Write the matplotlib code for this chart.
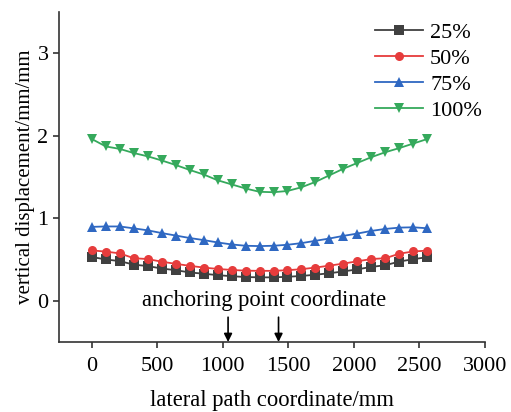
import numpy as np
import matplotlib
matplotlib.use("Agg")
import matplotlib.pyplot as plt

plt.rcParams['font.family'] = ['Liberation Serif', 'DejaVu Serif']

# lateral path coordinate (mm), 25 measuring points
x_mm = np.linspace(0, 2560, 25)

labels = ["25%", "50%", "75%", "100%"]
disp_25 = [0.53, 0.50, 0.48, 0.437, 0.42, 0.39, 0.37, 0.343, 0.327, 0.31, 0.297, 0.287,
           0.283, 0.283, 0.29, 0.30, 0.315, 0.333, 0.355, 0.38, 0.41, 0.43, 0.475, 0.503, 0.528]
disp_50 = [0.61, 0.595, 0.574, 0.515, 0.505, 0.473, 0.447, 0.423, 0.402, 0.385, 0.373, 0.364,
           0.362, 0.362, 0.37, 0.382, 0.402, 0.425, 0.45, 0.478, 0.505, 0.515, 0.57, 0.597, 0.607]
disp_75 = [0.895, 0.90, 0.90, 0.877, 0.853, 0.82, 0.79, 0.76, 0.735, 0.706, 0.682, 0.666,
           0.662, 0.666, 0.678, 0.698, 0.726, 0.754, 0.786, 0.814, 0.846, 0.87, 0.886, 0.89, 0.878]
disp_100 = [1.96, 1.87, 1.84, 1.79, 1.75, 1.70, 1.645, 1.585, 1.53, 1.46, 1.41, 1.36,
            1.32, 1.315, 1.33, 1.375, 1.44, 1.52, 1.60, 1.67, 1.74, 1.80, 1.85, 1.905, 1.96]

anchor_x = [1040, 1425]

colors = ['#404040', '#e63c3c', '#2f68c2', '#35a95c']
markers = ['s', 'o', '^', 'v']
series = [disp_25, disp_50, disp_75, disp_100]

fig = plt.figure(figsize=(5.11, 4.12), dpi=100)
ax = fig.add_axes([0.1155, 0.170, 0.8335, 0.801])

for y, c, m, lab in zip(series, colors, markers, labels):
    ax.plot(x_mm, y, color=c, marker=m, markersize=6.5, linewidth=1.3,
            markeredgewidth=0, label=lab)

ax.set_xlim(-250, 3000)
ax.set_ylim(-0.5, 3.5)
ax.set_xticks([0, 500, 1000, 1500, 2000, 2500, 3000])
ax.set_yticks([0, 1, 2, 3])
ax.spines['top'].set_visible(False)
ax.spines['right'].set_visible(False)
for s in ('left', 'bottom'):
    ax.spines[s].set_linewidth(1.2)
    ax.spines[s].set_color('#333333')
ax.tick_params(direction='out', length=4, width=1.2, labelsize=16, color='#333333')
ax.tick_params(axis='x', pad=7)

ax.set_xlabel("lateral path coordinate/mm", fontsize=16.3, labelpad=10)
ax.set_ylabel("vertical displacement/mm/mm", fontsize=15, labelpad=2)

ax.text(1315, 0.0, "anchoring point coordinate",
        fontsize=16.3, ha='center', va='center')
for xa in anchor_x:
    ax.annotate("", xy=(xa, -0.5), xytext=(xa, -0.2),
                arrowprops=dict(arrowstyle='-|>', color='black', lw=1.2,
                                mutation_scale=12, shrinkA=0, shrinkB=0))

ax.legend(loc='upper right', frameon=False, fontsize=16, handlelength=2.2,
          handletextpad=0.3, labelspacing=0.25, bbox_to_anchor=(1.04, 1.03))

fig.savefig("out.png", dpi=100)
